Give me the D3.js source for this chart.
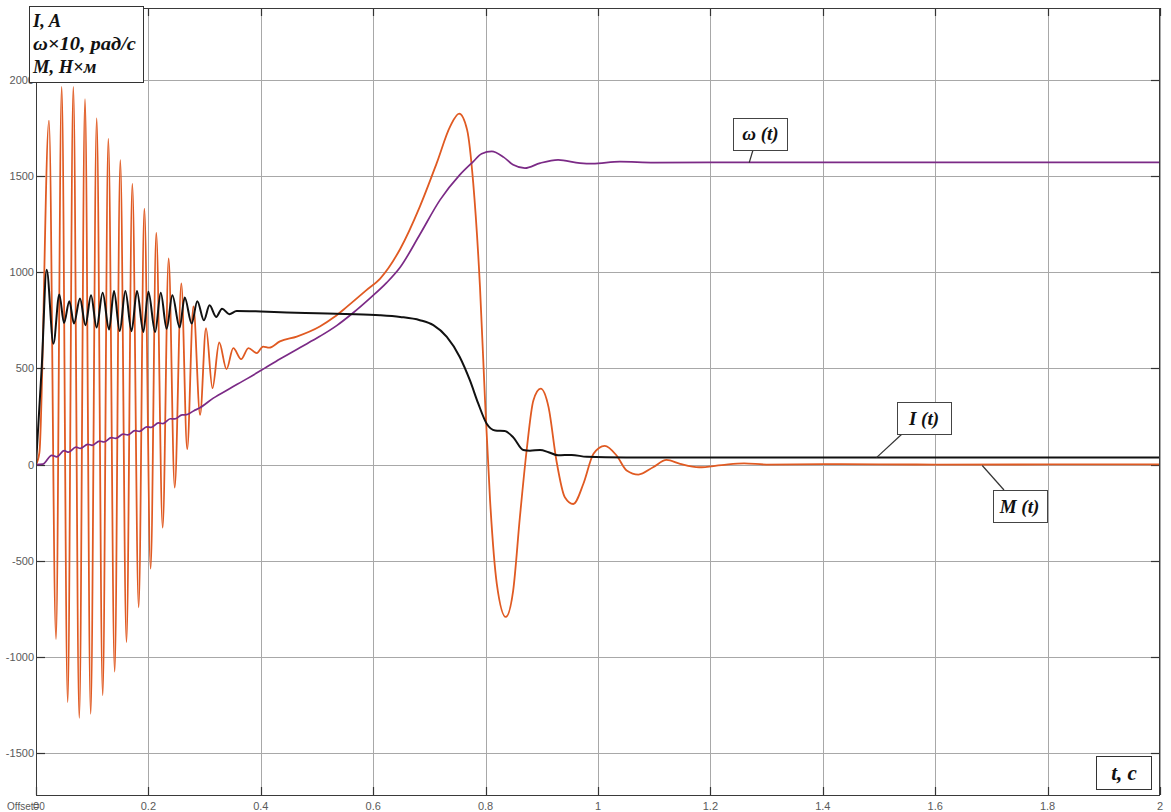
<!DOCTYPE html>
<html><head><meta charset="utf-8">
<script src="https://cdn.jsdelivr.net/npm/d3@7"></script>
<style>html,body{margin:0;padding:0;background:#fff;}svg{display:block;}</style>
</head><body>
<svg id="c" width="1171" height="812"></svg>
<script>
// ---- data ----
const xTicks = [0,0.2,0.4,0.6,0.8,1,1.2,1.4,1.6,1.8,2];
const xTickLabels = ["0","0.2","0.4","0.6","0.8","1","1.2","1.4","1.6","1.8","2"];
const yTicks = [-1500,-1000,-500,0,500,1000,1500,2000];
const yTickLabels = ["-1500","-1000","-500","0","500","1000","1500","2000"];
const xDomain = [0,2];
const yDomain = [-1717,2372];

// Torque M(t)
const seriesM = [[0,0],[0.006,60],[0.0231,1787],[0.0356,-907],[0.0457,1962],[0.0564,-1234],[0.0664,1962],[0.077,-1316],
 [0.0872,1898],[0.0973,-1295],[0.108,1798],[0.1187,-1198],[0.1287,1692],[0.140,-1076],[0.150,1581],[0.161,-922],
 [0.1714,1458],[0.1827,-742],[0.1928,1330],[0.204,-541],[0.214,1203],[0.2254,-328],[0.236,1071],[0.2468,-120],
 [0.2586,941],[0.269,80],[0.28,821],[0.292,258],[0.3025,709],[0.314,397],[0.326,634],[0.339,496],[0.351,605],
 [0.365,548],[0.378,605],[0.393,579],[0.404,613],[0.415,607],[0.434,640],[0.464,665],[0.505,717],[0.53,765],
 [0.553,819],[0.588,906],[0.612,965],[0.648,1120],[0.683,1340],[0.713,1566],[0.737,1757],[0.753,1823],[0.767,1740],
 [0.778,1462],[0.790,923],[0.799,333],[0.808,-188],[0.820,-621],[0.836,-792],[0.849,-656],[0.861,-274],
 [0.873,73],[0.885,333],[0.898,394],[0.912,298],[0.926,21],[0.941,-170],[0.956,-205],[0.974,-100],[0.992,56],
 [1.012,97],[1.033,47],[1.051,-31],[1.072,-52],[1.098,-14],[1.122,24],[1.146,4],[1.18,-14],[1.22,-3],
 [1.26,6],[1.3,0],[1.4,2],[1.6,0],[2,1]];

// Speed ω(t)×10
const seriesW = [[0,0],[0.012,2],[0.028,48],[0.037,40],[0.050,72],[0.058,64],[0.071,90],[0.079,84],[0.092,105],
 [0.100,100],[0.113,122],[0.121,117],[0.134,140],[0.142,136],[0.155,158],[0.163,154],[0.176,176],[0.184,172],
 [0.197,196],[0.205,193],[0.218,216],[0.226,213],[0.239,238],[0.247,237],[0.260,258],[0.268,259],[0.281,280],
 [0.29,292],[0.3155,345],[0.345,395],[0.375,445],[0.405,497],[0.434,548],[0.47,608],[0.505,666],
 [0.535,722],[0.565,790],[0.595,866],[0.624,945],[0.648,1025],[0.683,1195],[0.719,1375],[0.754,1505],
 [0.778,1574],[0.793,1615],[0.811,1627],[0.832,1597],[0.849,1557],[0.870,1540],[0.897,1566],[0.929,1583],
 [0.968,1566],[0.99,1563],[1.039,1574],[1.1,1569],[1.3,1570],[2,1570]];

// Current I(t)
const seriesI = [[0,0],[0.0101,500],[0.019,1012],[0.031,628],[0.0415,884],[0.0498,735],[0.0593,849],[0.0676,733],
 [0.0783,863],[0.088,724],[0.0979,880],[0.1079,712],[0.1186,892],[0.130,701],[0.1388,901],[0.149,694],[0.159,901],
 [0.170,693],[0.1797,901],[0.191,689],[0.2,898],[0.212,689],[0.222,892],[0.2325,705],[0.2426,880],[0.2556,712],
 [0.2646,868],[0.277,733],[0.287,849],[0.2988,750],[0.3088,827],[0.3206,767],[0.331,810],[0.344,781],[0.357,798],
 [0.40,795],[0.446,790],[0.5,786],[0.55,782],[0.612,776],[0.648,767],[0.683,750],[0.707,724],[0.731,663],
 [0.754,559],[0.772,438],[0.787,316],[0.802,212],[0.817,177],[0.834,174],[0.849,142],[0.867,76],[0.879,72],
 [0.897,76],[0.912,64],[0.929,48],[0.953,50],[0.98,40],[1.05,37],[1.3,36],[2,36]];

const axisLabelLines = ["I, A","ω×10, рад/с","M, Н×м"];
const timeLabel = "t, c";
// anchor: point on the curve [t, value]; box: box centre [t, value]
const curveLabels = [
  {text:"ω (t)", anchor:[1.269,1568], box:[1.289,1719]},
  {text:"I (t)", anchor:[1.4955,36], box:[1.580,241]},
  {text:"M (t)", anchor:[1.6837,-5], box:[1.750,-218]}
];

// ---- layout ----
const L=36, R=1160, T=8, B=795;
const svg = d3.select("#c");
const x = d3.scaleLinear().domain(xDomain).range([L,R]);
const y = d3.scaleLinear().domain(yDomain).range([B,T]);

svg.append("rect").attr("x",L).attr("y",T).attr("width",R-L).attr("height",B-T).attr("fill","#fff");

// grid
const g = svg.append("g");
g.selectAll("line.vx").data(xTicks).join("line")
  .attr("x1",d=>Math.round(x(d))+0.5).attr("x2",d=>Math.round(x(d))+0.5).attr("y1",T).attr("y2",B)
  .attr("stroke","#a8a8a8").attr("stroke-width",1);
g.selectAll("line.hy").data(yTicks).join("line")
  .attr("x1",L).attr("x2",R).attr("y1",d=>Math.round(y(d))+0.5).attr("y2",d=>Math.round(y(d))+0.5)
  .attr("stroke","#a8a8a8").attr("stroke-width",1);

// inner ticks
const tk = svg.append("g").attr("stroke","#333").attr("stroke-width",1.2);
xTicks.forEach(d=>{
  const xx=Math.round(x(d))+0.5;
  tk.append("line").attr("x1",xx).attr("x2",xx).attr("y1",B).attr("y2",B-8);
  tk.append("line").attr("x1",xx).attr("x2",xx).attr("y1",T).attr("y2",T+8);
});
yTicks.forEach(d=>{
  const yy=Math.round(y(d))+0.5;
  tk.append("line").attr("x1",L).attr("x2",L+9).attr("y1",yy).attr("y2",yy);
  tk.append("line").attr("x1",R).attr("x2",R-9).attr("y1",yy).attr("y2",yy);
});

// series
svg.append("clipPath").attr("id","clip").append("rect")
  .attr("x",L).attr("y",T).attr("width",R-L).attr("height",B-T);
const line = d3.line().x(d=>x(d[0])).y(d=>y(d[1])).curve(d3.curveMonotoneX);
const pl = svg.append("g").attr("clip-path","url(#clip)").attr("fill","none").attr("stroke-linejoin","round");
pl.append("path").datum(seriesM).attr("d",line).attr("stroke","#E05A22").attr("stroke-width",1.8);
pl.append("path").datum(seriesW).attr("d",line).attr("stroke","#7B2A86").attr("stroke-width",1.7);
pl.append("path").datum(seriesI).attr("d",line).attr("stroke","#111").attr("stroke-width",2);

// frame
svg.append("rect").attr("x",L+0.5).attr("y",T+0.5).attr("width",R-L-1).attr("height",B-T)
  .attr("fill","none").attr("stroke","#3a3a3a").attr("stroke-width",1);

// tick labels
const tf = "'Liberation Sans', Arial, sans-serif";
svg.selectAll("text.yl").data(yTicks).join("text")
  .attr("x",34).attr("y",d=>y(d)+4).attr("text-anchor","end")
  .attr("font-family",tf).attr("font-size",11).attr("fill","#5a5a5a")
  .text((d,i)=>yTickLabels[i]);
svg.append("text").attr("x",7).attr("y",810).attr("font-family",tf).attr("font-size",10).attr("fill","#5a5a5a").text("Offset=0");
svg.selectAll("text.xl").data(xTicks).join("text")
  .attr("x",d=>x(d)).attr("y",810).attr("text-anchor","middle")
  .attr("font-family",tf).attr("font-size",11).attr("fill","#5a5a5a")
  .text((d,i)=>xTickLabels[i]);

// annotations
const sf = "'Liberation Serif','Times New Roman',serif";
// top-left axis label box
svg.append("rect").attr("x",29.5).attr("y",6.5).attr("width",114).attr("height",76)
  .attr("fill","#fff").attr("stroke","#333").attr("stroke-width",1);
axisLabelLines.forEach((s,i)=>{
  svg.append("text").attr("x",33).attr("y",27+i*23).attr("font-family",sf).attr("font-weight","bold")
    .attr("font-style","italic").attr("font-size",18.5).attr("fill","#111")
    .attr("textLength", i===1 ? 103 : null).attr("lengthAdjust","spacingAndGlyphs").text(s);
});
// time label box
svg.append("rect").attr("x",1096.5).attr("y",756.5).attr("width",55).attr("height",33)
  .attr("fill","#fff").attr("stroke","#333").attr("stroke-width",1);
svg.append("text").attr("x",1124).attr("y",780).attr("text-anchor","middle").attr("font-family",sf)
  .attr("font-weight","bold").attr("font-style","italic").attr("font-size",21).attr("fill","#111").text(timeLabel);

// curve labels
const leadOffsets = [20, 5, 11];
curveLabels.forEach((c,i)=>{
  const bx=x(c.box[0]), by=y(c.box[1]);
  const ax=x(c.anchor[0]), ay=y(c.anchor[1]);
  const w=54, h=32;
  const left = Math.round(bx-w/2), top = Math.round(by-h/2);
  const ey = ay>by ? top+h : top;
  const ex = left + leadOffsets[i];
  svg.append("line").attr("x1",ax).attr("y1",ay).attr("x2",ex).attr("y2",ey)
    .attr("stroke","#333").attr("stroke-width",1.2);
  svg.append("rect").attr("x",left+0.5).attr("y",top+0.5).attr("width",w).attr("height",h)
    .attr("fill","#fff").attr("stroke","#444").attr("stroke-width",1);
  svg.append("text").attr("x",bx).attr("y",by+6.5).attr("text-anchor","middle").attr("font-family",sf)
    .attr("font-weight","bold").attr("font-style","italic").attr("font-size",19).attr("fill","#111").text(c.text);
});
</script>
</body></html>
